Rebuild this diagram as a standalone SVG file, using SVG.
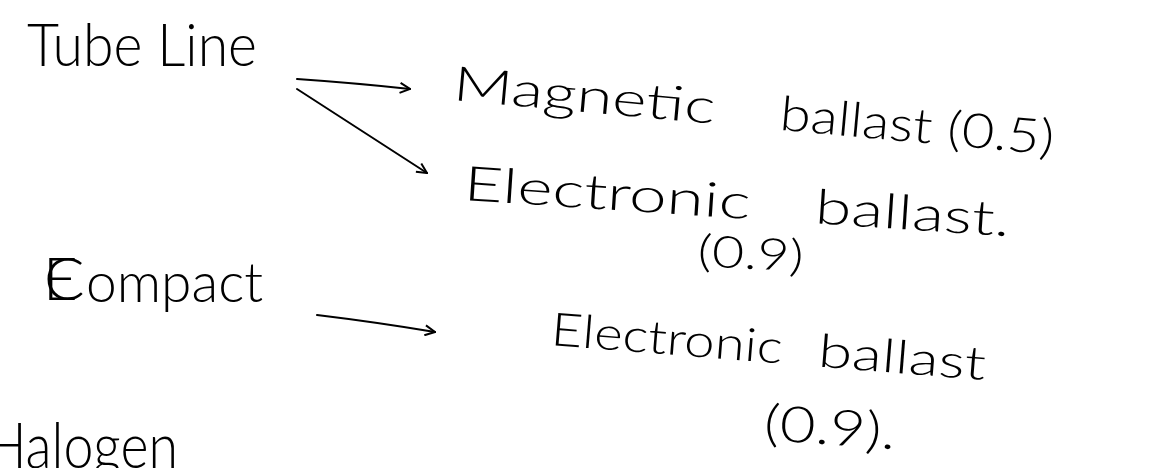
<svg xmlns="http://www.w3.org/2000/svg" width="1157" height="468" viewBox="0 0 1157 468">
  <style>
    .hand { font-family: Lato, "Liberation Sans", sans-serif; font-weight: 300; fill: #000; }
    .link { stroke: #000; stroke-width: 2; fill: none; stroke-linecap: round; }
  </style>
  <defs>
    <marker id="head" viewBox="0 0 12 12" refX="11" refY="6" markerWidth="12" markerHeight="12" markerUnits="userSpaceOnUse" orient="auto">
      <path d="M1,1 L11,6 L1,11" fill="none" stroke="#000" stroke-width="2" stroke-linejoin="miter"/>
    </marker>
  </defs>
  <rect width="1157" height="468" fill="#fff"/>

  <!-- lamp types -->
  <g id="tube-line">
    <text class="hand" x="27" y="66" font-size="60" textLength="230" lengthAdjust="spacingAndGlyphs">Tube Line</text>
  </g>
  <g id="compact">
    <!-- first letter written over: E with a C drawn across it -->
    <text class="hand" x="43" y="300" font-size="60">E</text>
    <text class="hand" x="44" y="300" font-size="60">C</text>
    <text class="hand" x="86" y="302" font-size="55" textLength="177" lengthAdjust="spacingAndGlyphs">ompact</text>
  </g>
  <g id="halogen">
    <text class="hand" x="-14" y="468" font-size="64" textLength="192" lengthAdjust="spacingAndGlyphs">Halogen</text>
  </g>

  <!-- ballast options -->
  <g id="magnetic-ballast" transform="translate(452,100) rotate(5.2)">
    <text class="hand" x="0" y="0" font-size="48" textLength="263" lengthAdjust="spacingAndGlyphs">Magnetic</text>
    <text class="hand" x="328" y="0" font-size="48" textLength="275" lengthAdjust="spacingAndGlyphs">ballast (0.5)</text>
  </g>
  <g id="electronic-ballast-tube" transform="translate(463,200) rotate(3.8)">
    <text class="hand" x="0" y="0" font-size="48" textLength="287" lengthAdjust="spacingAndGlyphs">Electronic</text>
    <text class="hand" x="352" y="0" font-size="48" textLength="195" lengthAdjust="spacingAndGlyphs">ballast.</text>
  </g>
  <g id="electronic-ballast-tube-pf" transform="translate(697,266) rotate(3)">
    <text class="hand" x="0" y="0" font-size="44" textLength="106" lengthAdjust="spacingAndGlyphs">(0.9)</text>
  </g>
  <g id="electronic-ballast-compact" transform="translate(550,345) rotate(4.6)">
    <text class="hand" x="0" y="0" font-size="46" textLength="232" lengthAdjust="spacingAndGlyphs">Electronic</text>
    <text class="hand" x="268" y="0" font-size="46" textLength="168" lengthAdjust="spacingAndGlyphs">ballast</text>
  </g>
  <g id="electronic-ballast-compact-pf" transform="translate(763,440) rotate(4)">
    <text class="hand" x="0" y="0" font-size="50" textLength="132" lengthAdjust="spacingAndGlyphs">(0.9).</text>
  </g>

  <!-- arrows -->
  <g id="connectors">
    <path class="link" d="M297,79 Q355,83 410,89" marker-end="url(#head)"/>
    <path class="link" d="M297,89 Q360,130 427,173" marker-end="url(#head)"/>
    <path class="link" d="M317,315 Q375,322 435,332" marker-end="url(#head)"/>
  </g>
</svg>
